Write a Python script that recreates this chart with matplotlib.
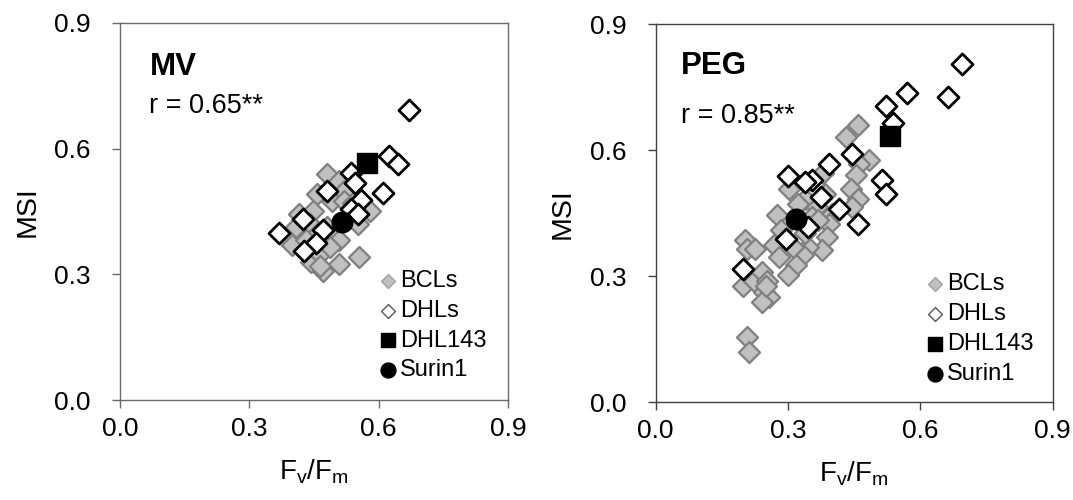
import matplotlib
matplotlib.use("Agg")
import matplotlib.pyplot as plt

plt.rcParams['font.family'] = ['Liberation Sans', 'DejaVu Sans']
plt.rcParams['mathtext.default'] = 'regular'

# MV panel
mv_bcl_x = [0.480, 0.508, 0.456, 0.492, 0.520, 0.416, 0.448, 0.408, 0.440, 0.400,
            0.508, 0.444, 0.472, 0.508, 0.555, 0.580, 0.552, 0.464, 0.488, 0.456,
            0.480, 0.432, 0.464, 0.520, 0.540]
mv_bcl_y = [0.540, 0.524, 0.492, 0.476, 0.500, 0.444, 0.452, 0.412, 0.420, 0.369,
            0.381, 0.329, 0.309, 0.325, 0.342, 0.452, 0.420, 0.349, 0.365, 0.397,
            0.412, 0.381, 0.321, 0.476, 0.470]
mv_dhl_x = [0.670, 0.624, 0.645, 0.610, 0.536, 0.546, 0.480, 0.560, 0.536, 0.552,
            0.424, 0.369, 0.472, 0.455, 0.426]
mv_dhl_y = [0.692, 0.582, 0.564, 0.495, 0.542, 0.518, 0.499, 0.478, 0.456, 0.444,
            0.432, 0.398, 0.405, 0.375, 0.355]
mv_dhl143 = (0.574, 0.566)
mv_surin1 = (0.515, 0.426)

# PEG panel
peg_bcl_x = [0.458, 0.431, 0.483, 0.462, 0.454, 0.442, 0.458, 0.446, 0.380, 0.303,
             0.338, 0.365, 0.384, 0.400, 0.392, 0.388, 0.377, 0.346, 0.334, 0.319,
             0.299, 0.276, 0.284, 0.268, 0.280, 0.311, 0.203, 0.207, 0.226, 0.199,
             0.222, 0.242, 0.253, 0.245, 0.257, 0.242, 0.249, 0.207, 0.211, 0.354,
             0.369, 0.323, 0.338]
peg_bcl_y = [0.660, 0.632, 0.578, 0.568, 0.541, 0.509, 0.485, 0.465, 0.545, 0.509,
             0.485, 0.465, 0.497, 0.449, 0.425, 0.394, 0.362, 0.370, 0.350, 0.326,
             0.302, 0.445, 0.410, 0.374, 0.346, 0.370, 0.386, 0.366, 0.366, 0.278,
             0.290, 0.310, 0.290, 0.262, 0.250, 0.239, 0.278, 0.155, 0.119, 0.441,
             0.433, 0.473, 0.402]
peg_dhl_x = [0.695, 0.662, 0.570, 0.523, 0.539, 0.446, 0.392, 0.299, 0.354, 0.338,
             0.375, 0.415, 0.512, 0.523, 0.458, 0.346, 0.296, 0.198]
peg_dhl_y = [0.805, 0.727, 0.737, 0.705, 0.664, 0.592, 0.567, 0.538, 0.529, 0.525,
             0.489, 0.461, 0.530, 0.497, 0.425, 0.417, 0.390, 0.318]
peg_dhl143 = (0.531, 0.634)
peg_surin1 = (0.319, 0.437)

ticks = [0.0, 0.3, 0.6, 0.9]
tick_labels = ['0.0', '0.3', '0.6', '0.9']
legend_labels = ['BCLs', 'DHLs', 'DHL143', 'Surin1']

fig = plt.figure(figsize=(10.73, 5.0), dpi=100)
ax1 = fig.add_axes([120/1073, 100/500, 388/1073, 377/500])
ax2 = fig.add_axes([655.7/1073, 97.7/500, 397/1073, 378/500])

panels = [
    (ax1, mv_bcl_x, mv_bcl_y, mv_dhl_x, mv_dhl_y, mv_dhl143, mv_surin1, 'MV', 'r = 0.65**',
     (0.076, 0.862, 0.761), (0.669, 0.345), '#6a6a6a'),
    (ax2, peg_bcl_x, peg_bcl_y, peg_dhl_x, peg_dhl_y, peg_dhl143, peg_surin1, 'PEG', 'r = 0.85**',
     (0.064, 0.869, 0.740), (0.682, 0.341), '#404040'),
]

for ax, bx, by, dx, dy, sq, ci, name, rtext, pos, lpos, spc in panels:
    ax.scatter(bx, by, marker='D', s=115, facecolor='#c0c0c0', edgecolor='#7f7f7f',
               linewidth=1.6, zorder=3)
    ax.scatter(dx, dy, marker='D', s=115, facecolor='white', edgecolor='black',
               linewidth=2.0, zorder=3)
    ax.scatter([sq[0]], [sq[1]], marker='s', s=200, color='black', zorder=4)
    ax.scatter([ci[0]], [ci[1]], marker='o', s=220, color='black', zorder=5)

    # legend proxies
    h1 = ax.scatter([], [], marker='D', s=50, facecolor='#c0c0c0', edgecolor='#a0a0a0', linewidth=1)
    h2 = ax.scatter([], [], marker='D', s=50, facecolor='white', edgecolor='#555555', linewidth=1)
    h3 = ax.scatter([], [], marker='s', s=105, color='black')
    h4 = ax.scatter([], [], marker='o', s=115, color='black')
    ax.legend([h1, h2, h3, h4], legend_labels,
              loc='upper left', bbox_to_anchor=lpos, frameon=False,
              fontsize=17, handletextpad=0.12, handlelength=0.75, labelspacing=0.33,
              borderpad=0, borderaxespad=0, scatterpoints=1)

    ax.text(pos[0], pos[1], name, transform=ax.transAxes, fontsize=22.5,
            fontweight='bold', va='baseline', ha='left')
    ax.text(pos[0], pos[2], rtext, transform=ax.transAxes, fontsize=19.5,
            va='baseline', ha='left')

    ax.set_xlim(0, 0.9)
    ax.set_ylim(0, 0.9)
    ax.set_xticks(ticks)
    ax.set_xticklabels(tick_labels)
    ax.set_yticks(ticks)
    ax.set_yticklabels(tick_labels)
    ax.tick_params(direction='out', length=6, width=1, color=spc, labelsize=19)
    ax.tick_params(axis='x', pad=6)
    ax.tick_params(axis='y', pad=15)
    for sp in ax.spines.values():
        sp.set_color(spc)
        sp.set_linewidth(1)
    ax.set_xlabel('F$_v$/F$_m$', fontsize=20, labelpad=12)
    ax.set_ylabel('MSI', fontsize=20.5, labelpad=10)

fig.savefig('out.png', dpi=100)
